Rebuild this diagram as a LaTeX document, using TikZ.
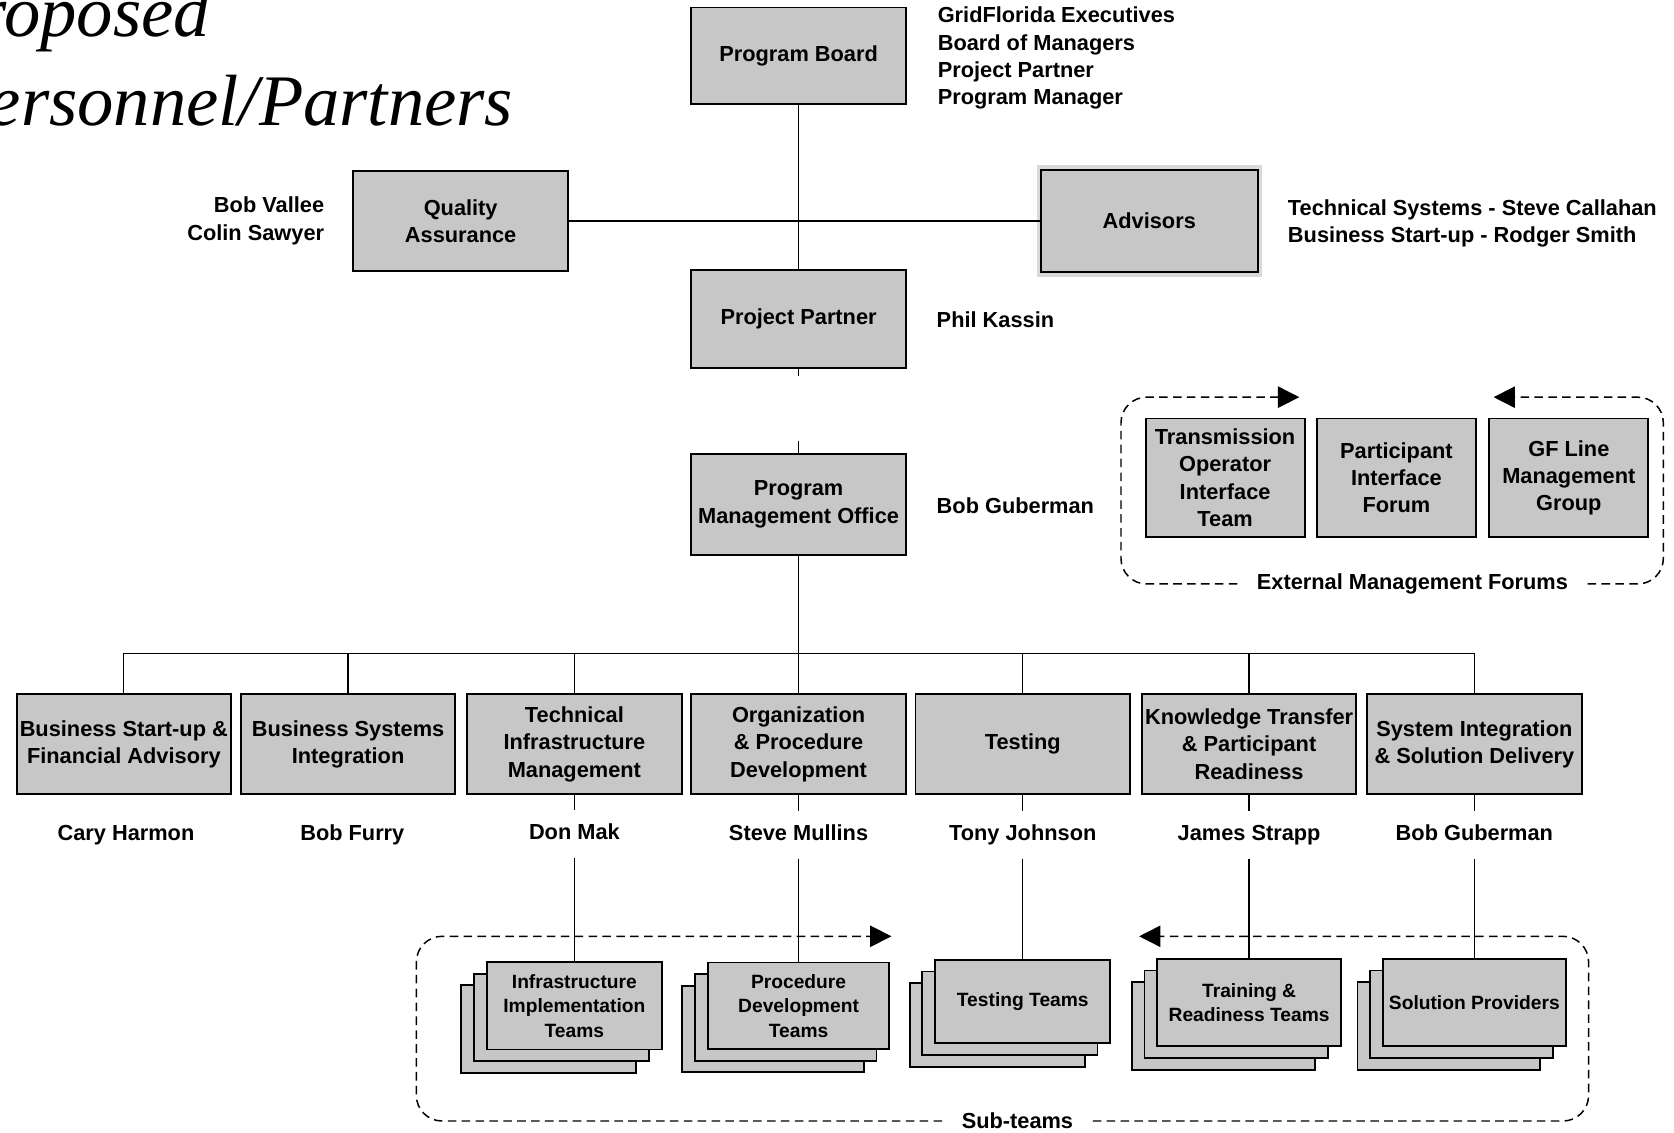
\documentclass[tikz,border=0pt]{standalone}
\usepackage{fontspec}
\newfontfamily\lab{Liberation Sans}
\newfontfamily\ttl{Liberation Serif}
\usetikzlibrary{arrows.meta,shadows}
\tikzset{
  box/.style={draw=black, line width=0.9pt, fill=black!22, align=center, inner sep=0pt,
    font=\lab\bfseries\fontsize{10.2}{12.8}\selectfont},
  bigbox/.style={box, minimum width=100.5pt, minimum height=47pt},
  fbox/.style={box, minimum width=74.5pt, minimum height=55.5pt},
  subbox/.style={box, font=\lab\bfseries\fontsize{9}{11.5}\selectfont,
    double copy shadow={shadow xshift=-6pt, shadow yshift=-5.5pt}},
  halo/.style={preaction={draw=black!15, line width=4pt}},
  lbl/.style={inner sep=0pt, font=\lab\bfseries\fontsize{10.2}{12.8}\selectfont},
  pname/.style={lbl, text height=0.75em, text depth=0.25em, inner ysep=5.9pt, inner xsep=2pt},
  conn/.style={line width=0.6pt},
  dsh/.style={line width=0.7pt, dash pattern=on 4pt off 2.5pt, rounded corners=12pt,
    -{Triangle[length=10pt,width=10pt]}},
  ttlfont/.style={inner sep=0pt, font=\ttl\itshape\fontsize{34}{40}\selectfont}
}
\begin{document}
\begin{tikzpicture}[x=0.5pt,y=-0.5pt]
\useasboundingbox (0,0) rectangle (1568,1061);
\clip (0,0) rectangle (1568,1061);

% title
\node[ttlfont, anchor=base east] (t1) at (197,34) {Proposed};
\node[ttlfont, anchor=base east] (t2) at (481,118) {Personnel/Partners};

% top section
\node[box, minimum width=100.5pt, minimum height=45pt] (pb) at (748,52) {Program Board};
\node[lbl, anchor=west, align=left] (pbl) at (878,54.5) {GridFlorida Executives\\Board of Managers\\Project Partner\\Program Manager};

\node[box, minimum width=100.5pt, minimum height=46.5pt] (qa) at (431.5,207) {Quality\\Assurance};
\node[lbl, anchor=east, align=right] (qal) at (304,207) {Bob Vallee\\Colin Sawyer};

\node[box, halo, minimum width=101.5pt, minimum height=48pt] (adv) at (1076.5,207) {Advisors};
\node[lbl, anchor=west, align=left] (advl) at (1206,209) {Technical Systems - Steve Callahan\\Business Start-up - Rodger Smith};

\node[box, minimum width=100.5pt, minimum height=46pt] (pp) at (748,299) {Project Partner};
\node[lbl, anchor=west] (ppl) at (877,299) {Phil Kassin};

\node[box, minimum width=100.5pt, minimum height=47.5pt] (pmo) at (748,472.5) {Program\\Management Office};
\node[lbl, anchor=west] (pmol) at (877,474) {Bob Guberman};

\draw[conn] (pb.south) -- (pp.north);
\draw[conn] (qa.east) -- (adv.west);
\coordinate (ppt) at (748,352);
\coordinate (pmt) at (748,413);
\draw[conn] (pp.south) -- (ppt);
\draw[conn] (pmt) -- (pmo.north);

% workstream boxes
\node[bigbox] (b1) at (116,697) {Business Start-up \&\\Financial Advisory};
\node[bigbox] (b2) at (326,697) {Business Systems\\Integration};
\node[bigbox] (b3) at (538,697) {Technical\\Infrastructure\\Management};
\node[bigbox] (b4) at (748,697) {Organization\\\& Procedure\\Development};
\node[bigbox] (b5) at (958,697) {Testing};
\node[bigbox] (b6) at (1170,697) {Knowledge Transfer\\\& Participant\\Readiness};
\node[bigbox] (b7) at (1381,697) {System Integration\\\& Solution Delivery};

\coordinate (bus) at (748,612);
\draw[conn] (pmo.south) -- (bus);
\draw[conn] (b1.north) -- (b1.north |- bus) -- (b7.north |- bus) -- (b7.north);
\foreach \b in {b2,b3,b4,b5,b6}{\draw[conn] (\b.north) -- (\b.north |- bus);}

% names
\node[pname] (n1) at (118,782) {Cary Harmon};
\node[pname] (n2) at (330,782) {Bob Furry};
\node[pname] (n3) at (538,781) {Don Mak};
\node[pname] (n4) at (748,782) {Steve Mullins};
\node[pname] (n5) at (958,782) {Tony Johnson};
\node[pname] (n6) at (1170,782) {James Strapp};
\node[pname] (n7) at (1381,782) {Bob Guberman};

% sub-teams
\node[subbox, minimum width=82pt, minimum height=41pt] (s1) at (538,942) {Infrastructure\\Implementation\\Teams};
\node[subbox, minimum width=85pt, minimum height=40.5pt] (s2) at (748,942) {Procedure\\Development\\Teams};
\node[subbox, minimum width=82pt, minimum height=39pt] (s3) at (958,938) {Testing Teams};
\node[subbox, minimum width=86pt, minimum height=41pt] (s4) at (1170,939) {Training \&\\Readiness Teams};
\node[subbox, minimum width=85.5pt, minimum height=41pt] (s5) at (1381,939) {Solution Providers};

\draw[conn] (b3.south) -- (n3.north); \draw[conn] (n3.south) -- (s1.north);
\draw[conn] (b4.south) -- (n4.north); \draw[conn] (n4.south) -- (s2.north);
\draw[conn] (b5.south) -- (n5.north); \draw[conn] (n5.south) -- (s3.north);
\draw[conn] (b6.south) -- (n6.north); \draw[conn] (n6.south) -- (s4.north);
\draw[conn] (b7.south) -- (n7.north); \draw[conn] (n7.south) -- (s5.north);

\node[lbl, inner xsep=9pt] (stl) at (953,1050) {Sub-teams};
\coordinate (stA) at (835,877);
\coordinate (stB) at (1067,877);
\draw[dsh] (stl.west) -| (390,877) -- (stA);
\draw[dsh] (stl.east) -| (1488,877) -- (stB);

% external management forums
\node[fbox] (f1) at (1147.5,447.5) {Transmission\\Operator\\Interface\\Team};
\node[fbox] (f2) at (1308,447.5) {Participant\\Interface\\Forum};
\node[fbox] (f3) at (1469.5,447.5) {GF Line\\Management\\Group};

\node[lbl, inner xsep=9pt] (eml) at (1323,547) {External Management Forums};
\coordinate (emA) at (1217,372);
\coordinate (emB) at (1399,372);
\draw[dsh] (eml.west) -| (1050,372) -- (emA);
\draw[dsh] (eml.east) -| (1558,372) -- (emB);
\end{tikzpicture}
\end{document}
